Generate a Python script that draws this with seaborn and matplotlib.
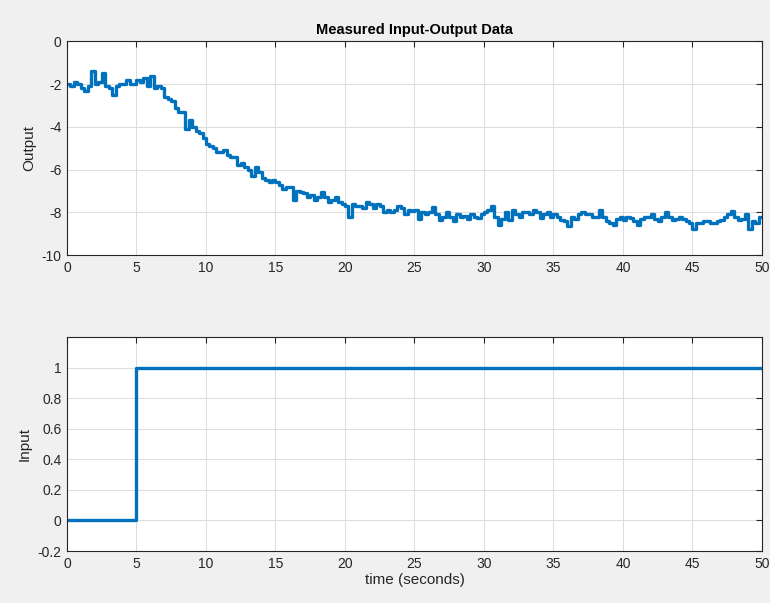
import numpy as np
import pandas as pd
import seaborn as sns
import matplotlib.pyplot as plt

# output samples, every 0.25 s from 0 to 50 s
output_vals = [
    -2.0, -2.1, -1.9, -2.0,
    -2.2, -2.3, -2.1, -1.4,
    -2.0, -1.9, -1.5, -2.1,
    -2.2, -2.5, -2.1, -2.0,
    -2.0, -1.8, -2.0, -2.0,
    -1.8, -1.9, -1.7, -2.1,
    -1.6, -2.2, -2.1, -2.2,
    -2.6, -2.7, -2.8, -3.1,
    -3.3, -3.3, -4.1, -3.7,
    -4.0, -4.2, -4.3, -4.5,
    -4.8, -4.9, -5.0, -5.2,
    -5.2, -5.1, -5.3, -5.4,
    -5.4, -5.8, -5.7, -5.9,
    -6.0, -6.3, -5.9, -6.1,
    -6.4, -6.5, -6.6, -6.5,
    -6.6, -6.7, -6.9, -6.8,
    -6.8, -7.4, -7.0, -7.05,
    -7.1, -7.3, -7.2, -7.4,
    -7.3, -7.05, -7.3, -7.5,
    -7.4, -7.3, -7.5, -7.6,
    -7.7, -8.2, -7.6, -7.7,
    -7.7, -7.8, -7.5, -7.6,
    -7.8, -7.6, -7.7, -8.0,
    -7.9, -8.0, -7.9, -7.7,
    -7.8, -8.1, -7.9, -7.95,
    -7.9, -8.3, -8.0, -8.1,
    -8.0, -7.75, -8.1, -8.35,
    -8.2, -8.0, -8.2, -8.4,
    -8.1, -8.2, -8.15, -8.3,
    -8.1, -8.2, -8.25, -8.1,
    -8.0, -7.9, -7.7, -8.2,
    -8.6, -8.3, -8.0, -8.35,
    -7.9, -8.1, -8.2, -8.0,
    -8.0, -8.1, -7.9, -8.0,
    -8.25, -8.1, -8.0, -8.2,
    -8.1, -8.2, -8.35, -8.4,
    -8.65, -8.2, -8.3, -8.1,
    -8.0, -8.1, -8.1, -8.2,
    -8.2, -7.9, -8.2, -8.4,
    -8.5, -8.6, -8.3, -8.2,
    -8.35, -8.2, -8.25, -8.4,
    -8.6, -8.3, -8.2, -8.2,
    -8.1, -8.3, -8.4, -8.2,
    -8.0, -8.2, -8.35, -8.3,
    -8.2, -8.3, -8.4, -8.5,
    -8.8, -8.5, -8.5, -8.4,
    -8.4, -8.5, -8.5, -8.4,
    -8.35, -8.2, -8.1, -7.95,
    -8.2, -8.35, -8.3, -8.1,
    -8.8, -8.4, -8.5, -8.2,
    -8.2,
]
output_time = [i * 0.25 for i in range(len(output_vals))]

# input step (held values)
input_time = [0, 4.95, 5.0, 50]
input_vals = [0, 0.67, 1, 1]

line_color = "#0072BD"
text_color = "#262626"

sns.set_style("white")
plt.rcParams["font.family"] = ["Liberation Sans", "DejaVu Sans"]
plt.rcParams["axes.unicode_minus"] = False

df_out = pd.DataFrame({"t": output_time, "y": output_vals})
df_in = pd.DataFrame({"t": input_time, "u": input_vals})

fig = plt.figure(figsize=(7.7, 6.03), dpi=100, facecolor="#f0f0f0")
ax1 = fig.add_axes([0.087, 0.577, 0.9026, 0.3544])
ax2 = fig.add_axes([0.087, 0.0862, 0.9026, 0.3549])

sns.lineplot(data=df_out, x="t", y="y", ax=ax1, color=line_color,
             linewidth=2.4, estimator=None, drawstyle="steps-post")
sns.lineplot(data=df_in, x="t", y="u", ax=ax2, color=line_color,
             linewidth=2.4, estimator=None, drawstyle="steps-post")

for ax in (ax1, ax2):
    ax.set_facecolor("white")
    ax.set_xlim(0, 50)
    ax.set_xticks(range(0, 51, 5))
    ax.grid(True, color="#dcdcdc", linewidth=0.7)
    ax.set_axisbelow(True)
    ax.tick_params(direction="in", length=4, width=0.8, colors=text_color,
                   labelsize=10, top=True, right=True, pad=4)
    for s in ax.spines.values():
        s.set_color(text_color)
        s.set_linewidth(0.8)
    ax.set_xlabel("")

ax1.set_ylim(-10, 0)
ax1.set_yticks(range(-10, 1, 2))
ax1.set_ylabel("Output", fontsize=11, color=text_color)
ax1.set_title("Measured Input-Output Data", fontsize=10.5,
              fontweight="bold", color="black", pad=5)

ax2.set_ylim(-0.2, 1.2)
ax2.set_yticks([-0.2, 0, 0.2, 0.4, 0.6, 0.8, 1])
ax2.set_yticklabels(["-0.2", "0", "0.2", "0.4", "0.6", "0.8", "1"])
ax2.set_ylabel("Input", fontsize=11, color=text_color)
ax2.set_xlabel("time (seconds)", fontsize=11, color=text_color, labelpad=2)

plt.savefig("out.png", dpi=100, facecolor=fig.get_facecolor())
